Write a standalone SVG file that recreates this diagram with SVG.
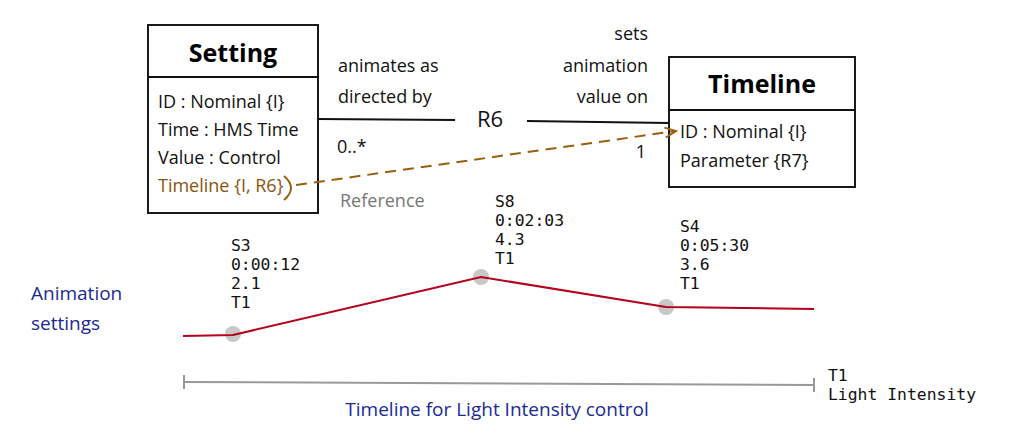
<svg xmlns="http://www.w3.org/2000/svg" width="1013" height="446" viewBox="0 0 1013 446">
<style>
.box{fill:#fff;stroke:#1a1a1a;stroke-width:2}
.t{font-family:"Open Sans","Noto Sans",sans-serif;font-size:18px;fill:#111}
.title{font-family:"Open Sans","Noto Sans",sans-serif;font-size:25px;font-weight:bold;fill:#000}
.mono{font-family:"DejaVu Sans Mono",monospace;font-size:16.4px;fill:#111}
.blue{font-family:"Open Sans","Noto Sans",sans-serif;font-size:19px;fill:#1a2a96}
.brown{fill:#8a560f}
.gray{fill:#777}
.ln{stroke:#111;stroke-width:2;fill:none}
</style>
<defs>
<marker id="open" markerWidth="14" markerHeight="12" refX="12" refY="6" orient="auto" markerUnits="userSpaceOnUse">
<path d="M1,1 L12,6 L1,11" fill="none" stroke="#9a5e10" stroke-width="2"/>
</marker>
</defs>
<g id="setting">
<rect class="box" x="148" y="25" width="170" height="188"/>
<line class="ln" x1="148" y1="77" x2="318" y2="77"/>
<text class="title" x="233" y="62" text-anchor="middle">Setting</text>
<text class="t" x="158" y="108">ID : Nominal {I}</text>
<text class="t" x="158" y="136">Time : HMS Time</text>
<text class="t" x="158" y="164">Value : Control</text>
<text class="t brown" x="158" y="192">Timeline {I, R6}</text>
</g>
<g id="timeline">
<rect class="box" x="669" y="57" width="186" height="130"/>
<line class="ln" x1="669" y1="110" x2="855" y2="110"/>
<text class="title" x="762" y="93" text-anchor="middle">Timeline</text>
<text class="t" x="680" y="138">ID : Nominal {I}</text>
<text class="t" x="680" y="167">Parameter {R7}</text>
</g>
<g id="connectors">
<line class="ln" x1="318" y1="119" x2="455" y2="120"/>
<line class="ln" x1="527" y1="121" x2="669" y2="123"/>
<line x1="296" y1="185" x2="676" y2="131" stroke="#9a5e10" stroke-width="2" stroke-dasharray="11,7" marker-end="url(#open)"/>
<path d="M284,176 Q298,188 284,200" fill="none" stroke="#9a5e10" stroke-width="2"/>
<text class="t" x="490" y="127" text-anchor="middle" style="font-size:22px">R6</text>
<text class="t" x="338" y="72">animates as</text>
<text class="t" x="338" y="103">directed by</text>
<text class="t" x="337" y="153">0..*</text>
<text class="t" x="648" y="40" text-anchor="end">sets</text>
<text class="t" x="648" y="72" text-anchor="end">animation</text>
<text class="t" x="648" y="103" text-anchor="end">value on</text>
<text class="t" x="646" y="158" text-anchor="end">1</text>
<text class="t gray" x="340" y="207">Reference</text>
</g>
<g id="chart">
<circle cx="233" cy="334" r="8" fill="#c8c8c8"/>
<circle cx="481" cy="277" r="8" fill="#c8c8c8"/>
<circle cx="666" cy="307" r="8" fill="#c8c8c8"/>
<polyline points="183,336 233,335 481,277 666,307 814,309" fill="none" stroke="#b5001e" stroke-width="2"/>
<text class="mono" x="231" y="251">S3</text>
<text class="mono" x="231" y="270">0:00:12</text>
<text class="mono" x="231" y="289">2.1</text>
<text class="mono" x="231" y="308">T1</text>
<text class="mono" x="495" y="207">S8</text>
<text class="mono" x="495" y="226">0:02:03</text>
<text class="mono" x="495" y="245">4.3</text>
<text class="mono" x="495" y="264">T1</text>
<text class="mono" x="680" y="232">S4</text>
<text class="mono" x="680" y="251">0:05:30</text>
<text class="mono" x="680" y="270">3.6</text>
<text class="mono" x="680" y="289">T1</text>
<text class="blue" x="31" y="300">Animation</text>
<text class="blue" x="31" y="330">settings</text>
<line x1="184" y1="382" x2="814" y2="385" stroke="#999" stroke-width="2"/>
<line x1="184" y1="375" x2="184" y2="389" stroke="#999" stroke-width="2"/>
<line x1="814" y1="378" x2="814" y2="392" stroke="#999" stroke-width="2"/>
<text class="mono" x="828" y="381">T1</text>
<text class="mono" x="828" y="400">Light Intensity</text>
<text class="blue" x="497" y="416" text-anchor="middle">Timeline for Light Intensity control</text>
</g>
</svg>
